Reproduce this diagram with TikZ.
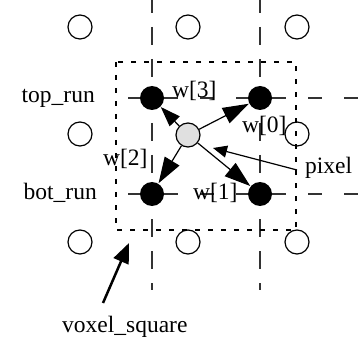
\documentclass[tikz,border=0pt]{standalone}
\usepackage{fontspec}
\setmainfont{Liberation Serif}
\usetikzlibrary{arrows.meta}
\begin{document}
\begin{tikzpicture}[x=1pt,y=-1pt,
  vgrid/.style={draw=black!80, line width=1.3pt, dash pattern=on 18pt off 14pt, dash phase=5pt},
  hgrid/.style={draw=black!80, line width=1.3pt, dash pattern=on 14pt off 22pt, dash phase=18pt},
  voxsq/.style={draw=black, line width=2.3pt, dash pattern=on 5pt off 8pt},
  dot/.style={circle, minimum size=24pt, inner sep=0pt, line width=1.2pt},
  opendot/.style={dot, draw=black},
  filldot/.style={dot, fill=black},
  pixdot/.style={dot, draw=black, fill=black!12},
  lab/.style={font=\fontsize{23.5}{28}\selectfont, inner sep=0pt},
  wt/.style={line width=1.2pt, -{Triangle[length=26pt,width=17pt]}},
  wtshort/.style={line width=1.2pt, -{Triangle[length=20pt,width=14pt]}},
  callout/.style={line width=1.2pt, -{Triangle[length=14pt,width=12pt]}},
  callthick/.style={line width=2.5pt, -{Triangle[length=20pt,width=16pt]}}]
\useasboundingbox (0,0) rectangle (361,339);

% grid lines
\coordinate (v1a) at (152,0);   \coordinate (v1b) at (152,290);
\coordinate (v2a) at (260,0);   \coordinate (v2b) at (260,290);
\coordinate (h1a) at (110,98);  \coordinate (h1b) at (361,98);
\coordinate (h2a) at (110,194); \coordinate (h2b) at (361,194);
\draw[vgrid] (v1a) -- (v1b);
\draw[vgrid] (v2a) -- (v2b);
\draw[hgrid] (h1a) -- (h1b);
\draw[hgrid] (h2a) -- (h2b);

% voxel square
\coordinate (sqa) at (116,62);
\coordinate (sqb) at (296,230);
\draw[voxsq] (sqa) rectangle (sqb);

% open circles
\node[opendot] (o1) at (80,27) {};
\node[opendot] (o2) at (188,27) {};
\node[opendot] (o3) at (297,27) {};
\node[opendot] (o4) at (80,134) {};
\node[opendot] (o5) at (297,134) {};
\node[opendot] (o6) at (80,242) {};
\node[opendot] (o7) at (188,242) {};
\node[opendot] (o8) at (297,242) {};

% filled circles
\node[filldot] (f3) at (152,98) {};
\node[filldot] (f0) at (260,98) {};
\node[filldot] (f2) at (152,194) {};
\node[filldot] (f1) at (260,194) {};

% pixel
\node[pixdot] (pix) at (188,135) {};

% weight arrows
\draw[wtshort] (pix) -- (f3);
\draw[wt] (pix) -- (f0);
\draw[wt] (pix) -- (f2);
\draw[wt] (pix) -- (f1);

% callouts
\coordinate (pxs) at (297,170);
\coordinate (pxt) at (213,148);
\draw[callout] (pxs) -- (pxt);
\coordinate (vxs) at (103,303);
\coordinate (vxt) at (129,243);
\draw[callthick] (vxs) -- (vxt);

% labels
\node[lab, anchor=base east] (ltop) at (95,103) {top\_run};
\node[lab, anchor=base east] (lbot) at (97,200) {bot\_run};
\node[lab, anchor=base west] (lw3) at (172,98) {w[3]};
\node[lab, anchor=base west] (lw0) at (242,133) {w[0]};
\node[lab, anchor=base west] (lw2) at (103,166) {w[2]};
\node[lab, anchor=base west] (lw1) at (193,200) {w[1]};
\node[lab, anchor=base west] (lpix) at (305,174) {pixel};
\node[lab, anchor=base west] (lvox) at (62,332) {voxel\_square};
\end{tikzpicture}
\end{document}
